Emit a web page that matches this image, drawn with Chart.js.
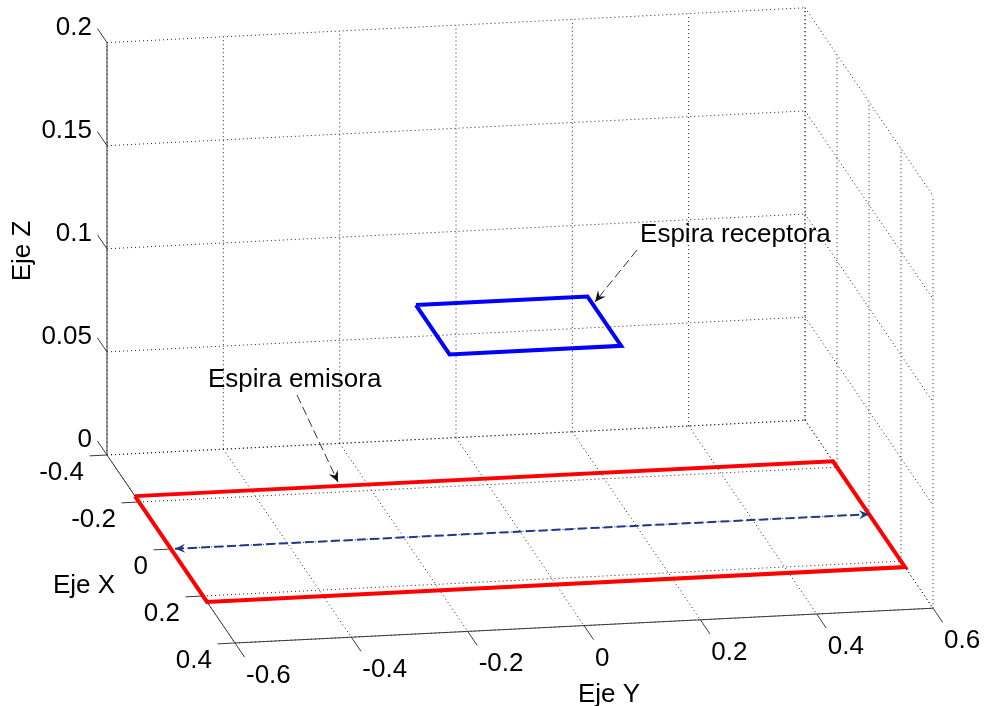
<!DOCTYPE html>
<html>
<head>
<meta charset="utf-8">
<script src="https://cdn.jsdelivr.net/npm/chart.js@4.4.1/dist/chart.umd.min.js"></script>
<style>
  html, body { margin: 0; padding: 0; background: #fff; }
  #wrap { width: 987px; height: 706px; }
</style>
</head>
<body>
<div id="wrap"><canvas id="myChart" width="987" height="706"></canvas></div>
<script>
// axis limits and ticks (data units)
const xLim = [-0.4, 0.4];
const yLim = [-0.6, 0.6];
const zLim = [0, 0.2];
const xTicks = [-0.4, -0.2, 0, 0.2, 0.4];
const yTicks = [-0.6, -0.4, -0.2, 0, 0.2, 0.4, 0.6];
const zTicks = [0, 0.05, 0.1, 0.15, 0.2];
const xTickLabels = ['-0.4', '-0.2', '0', '0.2', '0.4'];
const yTickLabels = ['-0.6', '-0.4', '-0.2', '0', '0.2', '0.4', '0.6'];
const zTickLabels = ['0', '0.05', '0.1', '0.15', '0.2'];

// espira emisora (z = 0)
const emisorX = [-0.225, 0.225, 0.225, -0.225, -0.225];
const emisorY = [-0.6, -0.6, 0.6, 0.6, -0.6];
const emisorZ = [0, 0, 0, 0, 0];

// espira receptora (z = 0.1)
const receptorX = [-0.105, 0.105, 0.105, -0.105, -0.105];
const receptorY = [-0.15, -0.15, 0.145, 0.145, -0.15];
const receptorZ = [0.1, 0.1, 0.1, 0.1, 0.1];

// flecha discontinua entre lados de la emisora
const spanX = [0, 0];
const spanY = [-0.593, 0.6];
const spanZ = [0, 0];

// orthographic view (pixels per data unit, fitted to the picture)
const origin = { x: 107, y: 455 };
const ex = { x: 160, y: 235 };
const ey = { x: 581.7, y: -29 };
const ez = { x: 0, y: -2062 };

function project(X, Y, Z) {
  const a = X - xLim[0], b = Y - yLim[0];
  return {
    x: origin.x + a * ex.x + b * ey.x + Z * ez.x,
    y: origin.y + a * ex.y + b * ey.y + Z * ez.y
  };
}

function path(xs, ys, zs) {
  return xs.map(function(x, i) { return project(x, ys[i], zs[i]); });
}

const gridColor = '#1e1e1e';
const axisColor = '#3a3a3a';
const tickX = 0.06, tickY = 0.03;

const datasets = [];
function addLine(pts, color, width, dash, order) {
  datasets.push({
    data: pts,
    showLine: true,
    borderColor: color,
    borderWidth: width,
    borderDash: dash,
    borderJoinStyle: 'miter',
    pointRadius: 0,
    tension: 0,
    clip: false,
    order: order
  });
}

// grid
xTicks.forEach(function(x) {
  addLine([project(x, yLim[0], 0), project(x, yLim[1], 0)], gridColor, 1, [1, 3], 30);
  addLine([project(x, yLim[1], zLim[0]), project(x, yLim[1], zLim[1])], gridColor, 1, [1, 3], 30);
});
yTicks.forEach(function(y) {
  addLine([project(xLim[0], y, 0), project(xLim[1], y, 0)], gridColor, 1, [1, 3], 30);
  addLine([project(xLim[0], y, zLim[0]), project(xLim[0], y, zLim[1])], gridColor, 1, [1, 3], 30);
});
zTicks.forEach(function(z) {
  addLine([project(xLim[0], yLim[0], z), project(xLim[0], yLim[1], z)], gridColor, 1, [1, 3], 30);
  addLine([project(xLim[0], yLim[1], z), project(xLim[1], yLim[1], z)], gridColor, 1, [1, 3], 30);
});

// axes and ticks
addLine([project(xLim[0], yLim[0], zLim[0]), project(xLim[0], yLim[0], zLim[1])], axisColor, 1, [], 20);
addLine([project(xLim[0], yLim[0], 0), project(xLim[1], yLim[0], 0)], axisColor, 1, [], 20);
addLine([project(xLim[1], yLim[0], 0), project(xLim[1], yLim[1], 0)], axisColor, 1, [], 20);
zTicks.forEach(function(z) {
  addLine([project(xLim[0], yLim[0], z), project(xLim[0] - tickX, yLim[0], z)], axisColor, 1, [], 20);
});
xTicks.forEach(function(x) {
  addLine([project(x, yLim[0], 0), project(x, yLim[0] - tickY, 0)], axisColor, 1, [], 20);
});
yTicks.forEach(function(y) {
  addLine([project(xLim[1], y, 0), project(xLim[1] + tickX, y, 0)], axisColor, 1, [], 20);
});

// loops
addLine(path(emisorX, emisorY, emisorZ), '#ff0000', 4, [], 2);
addLine(path(receptorX, receptorY, receptorZ), '#0000ff', 4, [], 2);
addLine(path(spanX, spanY, spanZ), '#1f3a8c', 2, [9, 4], 1);

function arrowHead(ctx, from, to, size, color) {
  const ang = Math.atan2(to.y - from.y, to.x - from.x);
  ctx.save();
  ctx.translate(to.x, to.y);
  ctx.rotate(ang);
  ctx.fillStyle = color;
  ctx.beginPath();
  ctx.moveTo(0, 0);
  ctx.lineTo(-size, -size * 0.45);
  ctx.lineTo(-size * 0.65, 0);
  ctx.lineTo(-size, size * 0.45);
  ctx.closePath();
  ctx.fill();
  ctx.restore();
}

const textPlugin = {
  id: 'textPlugin',
  afterDraw: function(chart) {
    const ctx = chart.ctx;
    const sx = chart.scales.x, sy = chart.scales.y;
    const px = function(p) { return { x: sx.getPixelForValue(p.x), y: sy.getPixelForValue(p.y) }; };
    ctx.save();
    ctx.fillStyle = '#000';
    ctx.font = '26px "Liberation Sans", Arial, sans-serif';
    ctx.textBaseline = 'alphabetic';

    // z tick labels
    ctx.textAlign = 'right';
    zTicks.forEach(function(z, i) {
      const p = px(project(xLim[0], yLim[0], z));
      ctx.fillText(zTickLabels[i], p.x - 15, p.y - 8);
    });
    // x tick labels
    xTicks.forEach(function(x, i) {
      const p = px(project(x, yLim[0], 0));
      ctx.fillText(xTickLabels[i], p.x - 23, p.y + 25);
    });
    // y tick labels
    ctx.textAlign = 'left';
    yTicks.forEach(function(y, i) {
      const p = px(project(xLim[1], y, 0));
      ctx.fillText(yTickLabels[i], p.x + 11, p.y + 40);
    });

    // axis titles
    ctx.textAlign = 'center';
    ctx.fillText('Eje X', 84, 593);
    ctx.fillText('Eje Y', 609, 702);
    ctx.save();
    ctx.translate(30, 251);
    ctx.rotate(-Math.PI / 2);
    ctx.fillText('Eje Z', 0, 0);
    ctx.restore();

    // arrow heads of the dashed span arrow
    const sp = path(spanX, spanY, spanZ).map(px);
    arrowHead(ctx, sp[1], sp[0], 10, '#1f3a8c');
    arrowHead(ctx, sp[0], sp[1], 10, '#1f3a8c');

    // text arrows
    const W = chart.width, H = chart.height;
    const notes = [
      { text: 'Espira receptora', tx: 0.6485, ty: 0.3428, tail: [0.6454, 0.3541], head: [0.6028, 0.4278] },
      { text: 'Espira emisora', tx: 0.2107, ty: 0.5482, tail: [0.3009, 0.5595], head: [0.3425, 0.6827] }
    ];
    notes.forEach(function(n) {
      const t = { x: n.tail[0] * W, y: n.tail[1] * H };
      const h = { x: n.head[0] * W, y: n.head[1] * H };
      ctx.strokeStyle = '#333';
      ctx.lineWidth = 1;
      ctx.setLineDash([9, 4]);
      ctx.beginPath();
      ctx.moveTo(t.x, t.y);
      ctx.lineTo(h.x, h.y);
      ctx.stroke();
      ctx.setLineDash([]);
      arrowHead(ctx, t, h, 11, '#111');
      ctx.textAlign = 'left';
      ctx.fillStyle = '#000';
      ctx.fillText(n.text, n.tx * W, n.ty * H);
    });
    ctx.restore();
  }
};

new Chart(document.getElementById('myChart'), {
  type: 'scatter',
  data: { datasets: datasets },
  options: {
    responsive: false,
    animation: false,
    layout: { padding: 0 },
    plugins: { legend: { display: false }, tooltip: { enabled: false } },
    scales: {
      x: { type: 'linear', min: 0, max: 987, display: false },
      y: { type: 'linear', min: 0, max: 706, reverse: true, display: false }
    }
  },
  plugins: [textPlugin]
});
</script>
</body>
</html>
